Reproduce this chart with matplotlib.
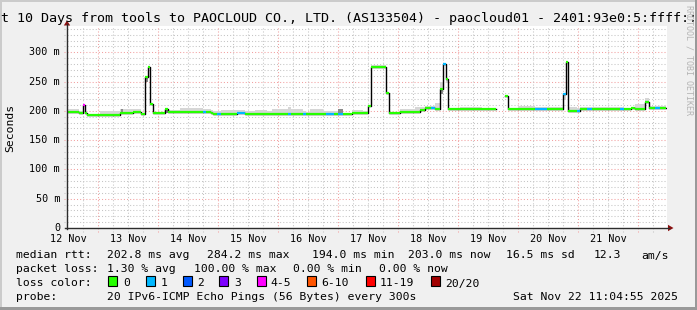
import numpy as np
import matplotlib
matplotlib.use("Agg")
import matplotlib.pyplot as plt
from matplotlib.patches import Rectangle, Polygon
from matplotlib.lines import Line2D

# ---------------- data ----------------
# median RTT segments: start hour (from left edge of 10-day window), value in ms
seg_start_h = [0.0, 4.8, 6.5, 7.2, 8.0, 13.0, 18.7, 21.0, 26.3, 29.4,
               31.0, 32.3, 33.3, 34.4, 39.0, 40.4, 45.0, 54.5, 55.5, 57.6,
               58.5, 59.9, 61.6, 68.0, 71.0, 75.0, 80.0, 82.0, 88.5, 89.6,
               94.5, 95.5, 97.0, 102.5, 103.5, 106.9, 108.5, 110.5, 113.9, 118.5,
               120.5, 121.5, 127.5, 128.6, 133.3, 139.3, 141.3, 143.0, 145.6, 147.0,
               149.2, 150.5, 151.5, 152.5, 157.0, 161.2, 166.0, 171.5, 175.2, 176.5,
               180.5, 187.2, 191.9, 198.5, 199.5, 200.5, 203.9, 205.0, 207.9, 209.9,
               221.2, 222.9, 225.7, 227.3, 231.3, 232.7, 235.1, 237.0]
data_end_h = 239.6
nan = float("nan")
median_ms = [198.0, 197.0, 210.0, 197.0, 193.5, 193.5, 192.5, 196.0, 198.0, 195.5,
             258.0, 275.0, 212.0, 196.0, 202.5, 197.5, 198.5, 198.5, 198.5, 197.0,
             195.5, 195.5, 195.5, 197.0, 195.5, 195.5, 195.5, 195.5, 195.5, 195.5,
             195.5, 195.2, 195.2, 195.2, 195.2, 195.2, 195.2, 195.2, 196.0, 196.0,
             209.0, 275.0, 231.0, 197.0, 198.6, 197.5, 201.4, 204.3, 205.4, 203.0,
             236.7, 280.6, 253.8, 202.6, 202.6, 204.0, 203.0, nan, 225.4, 202.6,
             202.6, 202.6, 202.6, 228.8, 284.0, 200.3, 200.3, 202.6, 202.6, 202.6,
             202.6, 202.6, 204.3, 202.6, 215.7, 204.3, 204.3, 204.3]
loss_class = [0, 0, 4, 0, 0, 0, 0, 0, 0, 0,
              0, 0, 0, 0, 0, 0, 0, 1, 0, 0,
              0, 1, 0, 1, 0, 0, 0, 0, 1, 0,
              1, 0, 0, 0, 1, 0, 1, 0, 0, 0,
              0, 0, 0, 0, 0, 0, 0, 0, 1, 0,
              0, 1, 0, 0, 0, 0, 0, 0, 0, 0,
              0, 1, 0, 1, 0, 0, 1, 0, 1, 0,
              1, 0, 0, 0, 0, 0, 1, 0]
smoke_lo_ms = [197, 196, 209, 196, 193, 193, 192, 195, 197, 195,
               250, 274, 211, 195, 196, 197, 198, 198, 198, 196,
               195, 195, 195, 196, 195, 195, 195, 195, 195, 195,
               195, 195, 195, 195, 195, 195, 195, 195, 195, 195,
               208, 274, 230, 196, 198, 197, 201, 204, 205, 202,
               229, 280, 247, 202, 202, 203, 202, nan, 225, 202,
               202, 202, 202, 218, 283, 200, 200, 202, 202, 202,
               202, 202, 204, 202, 215, 204, 204, 204]
smoke_hi_ms = [204, 200, 211, 199, 194, 200, 199, 203, 204, 197,
               260, 277, 214, 198, 204, 201, 205, 203, 204, 201,
               199, 199, 201, 201, 199, 202, 199, 204, 207, 204,
               200, 198, 203, 199, 199, 199, 203, 197, 201, 199,
               210, 279, 232, 198, 203, 207, 206, 208, 208, 214,
               249, 282, 254, 203, 207, 207, 210, nan, 226, 203,
               208, 207, 207, 229, 285, 207, 205, 206, 206, 207,
               206, 205, 206, 212, 222, 208, 208, 208]
dark_start_h = [21.6, 31.0, 39.0, 108.5, 149.2]
dark_end_h = [22.5, 32.3, 40.4, 110.5, 150.5]
dark_lo_ms = [197, 250, 196, 196, 229]
dark_hi_ms = [204, 258, 203, 203, 237]

y_ticks_ms = [0, 50, 100, 150, 200, 250, 300]
y_tick_labels = ["0", "50 m", "100 m", "150 m", "200 m", "250 m", "300 m"]
day_labels = ["12 Nov", "13 Nov", "14 Nov", "15 Nov", "16 Nov",
              "17 Nov", "18 Nov", "19 Nov", "20 Nov", "21 Nov"]
first_midnight_h = 12.4

loss_colors = ["#26ff00", "#00b8ff", "#0059ff", "#7e00ff",
               "#ff00ff", "#ff5500", "#ff0000", "#a10000"]
loss_labels = ["0", "1", "2", "3", "4-5", "6-10", "11-19", "20/20"]

title = ("Last 10 Days from tools to PAOCLOUD CO., LTD. (AS133504) - "
         "paocloud01 - 2401:93e0:5:ffff::2")
legend_rows = [
    [(16, "median rtt:"), (107.3, "202.8 ms avg"), (207.3, "284.2 ms max"),
     (312, "194.0 ms min"), (407.7, "203.0 ms now"), (506, "16.5 ms sd"),
     (594, "12.3"), (641.7, "am/s")],
    [(16, "packet loss:"), (107.3, "1.30 % avg"), (194, "100.00 % max"),
     (293.3, "0.00 % min"), (379.3, "0.00 % now")],
    [(16, "loss color:")],
    [(16, "probe:"), (107.3, "20 IPv6-ICMP Echo Pings (56 Bytes) every 300s"),
     (513.3, "Sat Nov 22 11:04:55 2025")],
]
legend_box_x = [108, 146, 182.7, 219.3, 256.7, 307.3, 366, 430.7]
legend_lab_x = [123.3, 160.7, 197.3, 234.3, 270.7, 321.7, 380, 445.3]

# ---------------- layout ----------------
W, H = 697, 310
MONO = "DejaVu Sans Mono"
fig = plt.figure(figsize=(W / 100, H / 100), dpi=100, facecolor="#f0f0f0")


def P(x, y):
    return (x / W, 1 - y / H)


X0, X1, Y0 = 67, 667, 228
YMAX = 345
PX_PER_MS = 175.7 / 300
ytop = Y0 - YMAX * PX_PER_MS
ax = fig.add_axes([X0 / W, 1 - Y0 / H, (X1 - X0) / W, (Y0 - ytop) / H])
ax.set_xlim(0, 240)
ax.set_ylim(0, YMAX)
ax.set_facecolor("white")
for s in ax.spines.values():
    s.set_visible(False)
ax.set_xticks([])
ax.set_yticks([])

minor_col = "#c4c4c4"
major_col = "#f2a0a0"
dots = (0, (1, 2))
for v in range(10, YMAX, 10):
    major = v % 50 == 0
    ax.plot([-1.2, 240], [v, v], color=major_col if major else minor_col,
            lw=0.75, ls=dots, clip_on=False, zorder=1)
hv = first_midnight_h - 12
while hv < 240:
    major = abs(((hv - first_midnight_h) / 24) - round((hv - first_midnight_h) / 24)) < 1e-6
    if hv > 0.5:
        ax.plot([hv, hv], [-6, YMAX], color=major_col if major else minor_col,
                lw=0.75, ls=dots, clip_on=False, zorder=1)
    hv += 6

# smoke
edges = list(seg_start_h) + [data_end_h]
lo = np.array(list(smoke_lo_ms) + [smoke_lo_ms[-1]], dtype=float)
hi = np.array(list(smoke_hi_ms) + [smoke_hi_ms[-1]], dtype=float)
ok = ~np.isnan(lo)
ax.fill_between(edges, lo, hi, where=ok, step="post", color="#d6d6d6",
                lw=0, zorder=2)
for a, b, l, h in zip(dark_start_h, dark_end_h, dark_lo_ms, dark_hi_ms):
    ax.fill_between([a, b], [l, l], [h, h], color="#8a8a8a", lw=0, zorder=3)

# median line: black steps + loss-coloured horizontals
ys = list(median_ms) + [median_ms[-1]]
ax.plot(edges, ys, drawstyle="steps-post", color="black", lw=1.0, zorder=4)
seg_end = list(seg_start_h[1:]) + [data_end_h]
for a, b, m, c in zip(seg_start_h, seg_end, median_ms, loss_class):
    if np.isnan(m):
        continue
    ax.plot([a, b], [m, m], color=loss_colors[c], lw=1.6,
            solid_capstyle="butt", zorder=5)

# axis lines and arrows
fig.add_artist(Line2D([P(67, 0)[0], P(67, 0)[0]], [P(0, 228.5)[1], P(0, 24)[1]],
                      color="#2c2c2c", lw=1.0))
fig.add_artist(Line2D([P(65, 0)[0], P(669, 0)[0]], [P(0, 228)[1], P(0, 228)[1]],
                      color="#2c2c2c", lw=1.0))
fig.add_artist(Polygon([P(67, 20.5), P(63.8, 25.5), P(70.2, 25.5)], closed=True,
                       color="#8b1010", lw=0))
fig.add_artist(Polygon([P(673.5, 228), P(668, 224.8), P(668, 231.2)], closed=True,
                       color="#8b1010", lw=0))

# tick labels
for v, lab in zip(y_ticks_ms, y_tick_labels):
    ypx = Y0 - v * PX_PER_MS
    fig.text(*P(60, ypx), lab, ha="right", va="center", family=MONO, size=7.3)
for i, lab in enumerate(day_labels):
    hx = first_midnight_h - 12 + 24 * i
    xpx = X0 + hx * 2.5
    fig.text(*P(xpx, 241.5), lab, ha="center", va="baseline", family=MONO, size=7.3)

fig.text(*P(10, 127.5), "Seconds", rotation=90, ha="center", va="center",
         family=MONO, size=8.2)
fig.text(*P(-23, 22), title, ha="left", va="baseline", family=MONO, size=9.6)
fig.text(*P(688.5, 60), "RRDTOOL / TOBI OETIKER", rotation=270, ha="center",
         va="center", family=MONO, size=6, color="#b4b4b4")

# legend
baselines = [258.5, 272.5, 286.5, 300.2]
for row, yb in zip(legend_rows, baselines):
    for xx, txt in row:
        fig.text(*P(xx, yb), txt, ha="left", va="baseline", family=MONO, size=8.2)
for bx, lx, col, lab in zip(legend_box_x, legend_lab_x, loss_colors, loss_labels):
    fig.add_artist(Rectangle(P(bx, 286), 9 / W, 10 / H, facecolor=col,
                             edgecolor="black", lw=0.8))
    fig.text(*P(lx, 286.5), lab, ha="left", va="baseline", family=MONO, size=8.2)

# 3D frame
fig.add_artist(Rectangle((0, 1 - 2 / H), 1, 2 / H, color="#cbcbcb", lw=0))
fig.add_artist(Rectangle((0, 0), 2 / W, 1, color="#cbcbcb", lw=0))
fig.add_artist(Rectangle((0, 0), 1, 3 / H, color="#999999", lw=0))
fig.add_artist(Rectangle((1 - 2 / W, 0), 2 / W, 1, color="#999999", lw=0))

fig.savefig("out.png", dpi=100, facecolor=fig.get_facecolor())
